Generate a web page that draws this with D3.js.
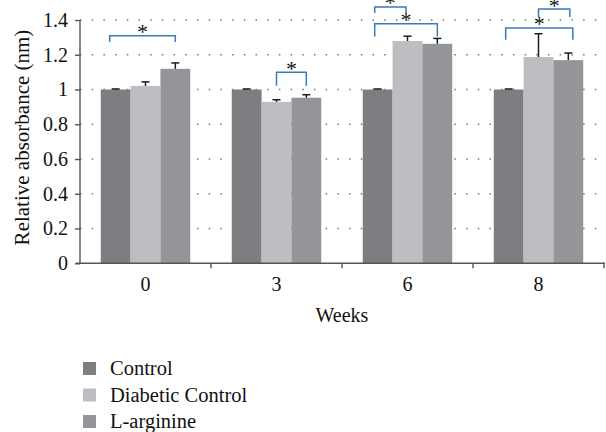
<!DOCTYPE html>
<html>
<head>
<meta charset="utf-8">
<script src="https://cdn.jsdelivr.net/npm/d3@7"></script>
<style>
  html, body { margin: 0; padding: 0; background: #fff; }
  svg { display: block; }
  text { font-family: "Liberation Serif", "Times New Roman", serif; fill: #111; }
</style>
</head>
<body>
<svg id="chart" width="606" height="432"></svg>
<script>
// ---- data ----
const weeks = ["0", "3", "6", "8"];
const seriesNames = ["Control", "Diabetic Control", "L-arginine"];
const controlValues = [1.0, 1.0, 1.0, 1.0];
const diabeticValues = [1.021, 0.929, 1.279, 1.187];
const larginineValues = [1.119, 0.953, 1.263, 1.169];
const controlErrors = [0.003, 0.003, 0.003, 0.003];
const diabeticErrors = [0.023, 0.012, 0.028, 0.134];
const larginineErrors = [0.034, 0.017, 0.031, 0.041];
const yTicks = [0, 0.2, 0.4, 0.6, 0.8, 1, 1.2, 1.4];
const yTickLabels = ["0", "0.2", "0.4", "0.6", "0.8", "1", "1.2", "1.4"];
const seriesColors = ["#7d7e82", "#bdbec2", "#949599"];

// significance brackets (bar-index units within a week group: 0 = Control, 1 = Diabetic, 2 = L-arginine)
const bracketWeek = ["0", "3", "6", "6", "8", "8"];
const bracketFrom = [-0.2, 1.0, -0.1, -0.1, 1.0, -0.1];
const bracketTo = [2.0, 2.0, 0.95, 2.0, 2.05, 2.15];
const bracketTop = [1.309, 1.10, 1.475, 1.378, 1.463, 1.354];
const bracketFoot = [1.273, 1.021, 1.44, 1.305, 1.417, 1.286];
const bracketLabel = ["*", "*", "*", "*", "*", "*"];

const allValues = [controlValues, diabeticValues, larginineValues];
const allErrors = [controlErrors, diabeticErrors, larginineErrors];

// ---- layout ----
const svg = d3.select("#chart");
const mLeft = 80, mRight = 604, mTop = 20, mBottom = 263.3;

const x = d3.scaleBand().domain(weeks).range([mLeft, mRight]).paddingInner(0.317).paddingOuter(0.1585);
const xs = d3.scaleBand().domain(seriesNames).range([0, x.bandwidth()]);
const xi = d3.scaleLinear().domain([-0.5, 2.5]).range([0, x.bandwidth()]);
const y = d3.scaleLinear().domain([0, 1.4]).range([mBottom, mTop]);

const axisColor = "#555";

// dotted grid
svg.append("g").selectAll("line")
  .data(yTicks.filter(d => d > 0))
  .join("line")
  .attr("x1", mLeft).attr("x2", mRight)
  .attr("y1", d => y(d)).attr("y2", d => y(d))
  .attr("stroke", "#777").attr("stroke-width", 1.6)
  .attr("stroke-dasharray", "1.5 10.2");

// bars
const rows = [];
weeks.forEach((w, wi) => seriesNames.forEach((s, si) => {
  rows.push({ week: w, series: s, si, value: allValues[si][wi], err: allErrors[si][wi] });
}));

svg.append("g").selectAll("rect")
  .data(rows)
  .join("rect")
  .attr("x", d => x(d.week) + xs(d.series))
  .attr("width", xs.bandwidth())
  .attr("y", d => y(d.value))
  .attr("height", d => y(0) - y(d.value))
  .attr("fill", d => seriesColors[d.si]);

// error bars
const eb = svg.append("g").attr("stroke", "#1a1a1a").attr("stroke-width", 1.5);
rows.forEach(d => {
  const cx = x(d.week) + xs(d.series) + xs.bandwidth() / 2;
  eb.append("line").attr("x1", cx).attr("x2", cx).attr("y1", y(d.value)).attr("y2", y(d.value + d.err));
  eb.append("line").attr("x1", cx - 4).attr("x2", cx + 4).attr("y1", y(d.value + d.err)).attr("y2", y(d.value + d.err));
});

// axes
const yAxis = svg.append("g").attr("transform", `translate(${mLeft},0)`)
  .call(d3.axisLeft(y).tickValues(yTicks).tickFormat((d, i) => yTickLabels[i]).tickSize(5).tickPadding(7));
yAxis.select(".domain").attr("d", `M0,${y(0)}V${y(1.4)}`);
yAxis.selectAll("path, line").attr("stroke", axisColor).attr("stroke-width", 1.4);
yAxis.selectAll("text").attr("font-size", 20).attr("font-family", "Liberation Serif").attr("fill", "#111");

const xAxisG = svg.append("g").attr("transform", `translate(0,${mBottom})`);
xAxisG.append("line").attr("x1", mLeft - 4).attr("x2", mRight + 1).attr("y1", 0).attr("y2", 0)
  .attr("stroke", axisColor).attr("stroke-width", 1.4);
const boundaries = weeks.map(w => x(w) + x.bandwidth() + x.step() * x.paddingInner() / 2);
xAxisG.selectAll("line.tk").data(boundaries).join("line").attr("class", "tk")
  .attr("x1", d => d).attr("x2", d => d).attr("y1", 0).attr("y2", 5)
  .attr("stroke", axisColor).attr("stroke-width", 1.4);
xAxisG.selectAll("text").data(weeks).join("text")
  .attr("x", d => x(d) + x.bandwidth() / 2)
  .attr("y", 28)
  .attr("text-anchor", "middle")
  .attr("font-size", 20)
  .text(d => d);

// axis titles
svg.append("text").attr("x", (mLeft + mRight) / 2).attr("y", 322)
  .attr("text-anchor", "middle").attr("font-size", 20).text("Weeks");
svg.append("text").attr("transform", `translate(29,${(23 + 252) / 2}) rotate(-90)`)
  .attr("text-anchor", "middle").attr("font-size", 21).text("Relative absorbance (nm)");

// significance brackets
const bc = svg.append("g");
bracketWeek.forEach((w, i) => {
  const x1 = x(w) + xi(bracketFrom[i]);
  const x2 = x(w) + xi(bracketTo[i]);
  const yt = y(bracketTop[i]);
  const yf = y(bracketFoot[i]);
  bc.append("path")
    .attr("d", `M${x1},${yf}V${yt}H${x2}V${yf}`)
    .attr("fill", "none").attr("stroke", "#3a7ab6").attr("stroke-width", 1.5);
  bc.append("text").attr("x", (x1 + x2) / 2).attr("y", yt + 3.5)
    .attr("text-anchor", "middle").attr("font-size", 22).text(bracketLabel[i]);
});

// legend
const lg = svg.append("g");
seriesNames.forEach((s, i) => {
  const ly = 362 + i * 26.5;
  lg.append("rect").attr("x", 83).attr("y", ly).attr("width", 13).attr("height", 13).attr("fill", seriesColors[i]);
  lg.append("text").attr("x", 110).attr("y", ly + 13).attr("font-size", 20.5).text(s);
});
</script>
</body>
</html>
